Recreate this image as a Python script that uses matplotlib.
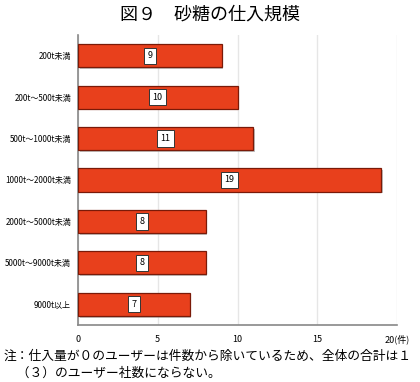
import matplotlib
matplotlib.use("Agg")
import matplotlib.pyplot as plt
import matplotlib.patheffects as pe

plt.rcParams['font.family'] = ['Noto Sans CJK JP', 'DejaVu Sans']

categories = ["200t未満", "200t～500t未満", "500t～1000t未満", "1000t～2000t未満",
              "2000t～5000t未満", "5000t～9000t未満", "9000t以上"]
values = [9, 10, 11, 19, 8, 8, 7]
xticks = [0, 5, 10, 15, 20]
xticklabels = ["0", "5", "10", "15", "20(件)"]

fig = plt.figure(figsize=(4.2, 3.82), dpi=100)
ax = fig.add_axes([78/420, 1 - 325/382, (397-78)/420, (325-35)/382])

ypos = list(range(len(categories)))
bars = ax.barh(ypos, values, height=0.56, color="#E8401C", edgecolor="#7a1a08",
               linewidth=0.9, zorder=3,
               path_effects=[pe.SimplePatchShadow(offset=(1.2, -1.2), shadow_rgbFace="#999999", alpha=0.6), pe.Normal()])
for y, v in zip(ypos, values):
    ax.text(v / 2, y, str(v), ha="center", va="center", fontsize=6.5, zorder=5,
            bbox=dict(boxstyle="square,pad=0.4", fc="white", ec="#333333", lw=0.7))

ax.set_ylim(len(categories) - 0.5, -0.5)
ax.set_xlim(0, 20)
ax.set_yticks(ypos)
ax.set_yticklabels(categories, fontsize=5.8)
ax.set_xticks(xticks)
ax.set_xticklabels(xticklabels, fontsize=6.5)
ax.tick_params(length=0, pad=5)
ax.tick_params(axis="y", pad=5)
ax.tick_params(axis="x", pad=7)
ax.grid(axis="x", color="#e6e6e6", lw=1, zorder=0)
for s in ["top", "right"]:
    ax.spines[s].set_visible(False)
ax.spines["left"].set_color("#888888")
ax.spines["bottom"].set_color("#888888")
ax.spines["left"].set_linewidth(1.2)
ax.spines["bottom"].set_linewidth(1.2)

fig.text(0.5, 1 - 15/382, "図９　砂糖の仕入規模", ha="center", va="center", fontsize=13)
fig.text(4/420, 1 - 356/382, "注：仕入量が０のユーザーは件数から除いているため、全体の合計は１",
         ha="left", va="center", fontsize=9.2)
fig.text(4/420, 1 - 373/382, "　（３）のユーザー社数にならない。",
         ha="left", va="center", fontsize=9.2)

fig.savefig("out.png", dpi=100)
